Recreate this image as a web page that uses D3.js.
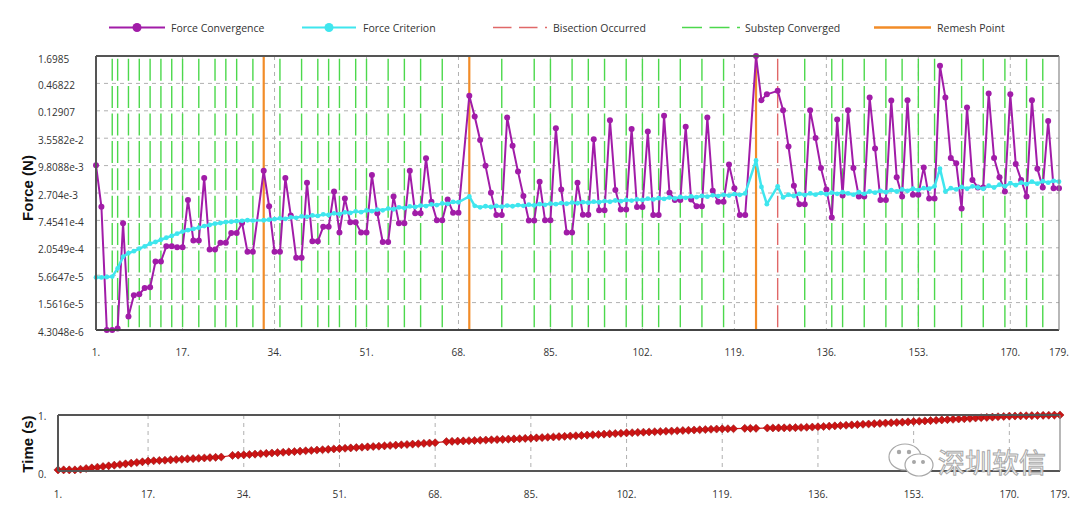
<!DOCTYPE html>
<html><head><meta charset="utf-8">
<script src="https://cdn.jsdelivr.net/npm/d3@7"></script>
<style>html,body{margin:0;padding:0;background:#fff;}svg{display:block;}</style>
</head><body>
<svg id="c" width="1080" height="507"></svg>
<script>
// ---------- DATA ----------
const forceConvergence = [
 1.0e-2, 1.42e-3, 4.3048e-6, 4.3048e-6, 4.6e-6, 6.5e-4, 8.1e-6, 2.2e-5, 2.3e-5, 3.1e-5,
 3.2e-5, 1.08e-4, 1.08e-4, 2.2e-4, 2.2e-4, 2.1e-4, 2.1e-4, 1.95e-3, 2.9e-4, 2.9e-4,
 5.5e-3, 1.9e-4, 1.9e-4, 2.6e-4, 2.6e-4, 4.1e-4, 4.1e-4, 6.6e-4, 1.7e-4, 1.7e-4,
 null, 7.7e-3, 1.45e-3, 1.7e-4, 1.7e-4, 5.5e-3, 9.4e-4, 1.29e-4, 1.29e-4, 4.4e-3,
 2.8e-4, 2.8e-4, 5.5e-4, 5.5e-4, 2.9e-3, 4.2e-4, 2.1e-3, 6.8e-4, 6.8e-4, 4.2e-4,
 4.2e-4, 6.3e-3, 1.04e-3, 2.7e-4, 2.7e-4, 2.3e-3, 6.5e-4, 6.5e-4, 7.7e-3, 1.04e-3,
 1.04e-3, 1.39e-2, 1.79e-3, 7.5e-4, 7.5e-4, 2.0e-3, 1.07e-3, 1.07e-3, null, 0.262,
 9.85e-2, 3.26e-2, 9.7e-3, 2.75e-3, 9.6e-4, 9.6e-4, 9.4e-2, 2.5e-2, 7.4e-3, 2.35e-3,
 7.4e-4, 7.4e-4, 4.6e-3, 7.5e-4, 7.5e-4, 5.66e-2, 3.2e-3, 4.2e-4, 4.2e-4, 4.4e-3,
 9.7e-4, 9.7e-4, 3.4e-2, 1.2e-3, 1.2e-3, 8.3e-2, 3.1e-3, 1.25e-3, 1.25e-3, 5.5e-2,
 1.4e-3, 1.4e-3, 4.85e-2, 9.6e-4, 9.6e-4, 0.102, 2.75e-3, 1.95e-3, 1.95e-3, 6.1e-2,
 2.0e-3, 1.45e-3, 1.45e-3, 9.4e-2, 3.0e-3, 1.8e-3, 1.8e-3, 1.03e-2, 3.4e-3, 9.6e-4,
 9.6e-4, null, 1.6985, 0.213, 0.28, null, 0.33, 0.133, 2.4e-2, 3.8e-3,
 1.6e-3, 1.6e-3, 0.133, 3.6e-2, 8.8e-3, 3.2e-3, 8.5e-4, 8.6e-2, 2.4e-3, 0.133,
 8.8e-3, 2.3e-3, 2.3e-3, 0.24, 2.2e-2, 1.95e-3, 1.95e-3, 0.21, 5.7e-3, 2.3e-3,
 0.213, 2.5e-3, 2.5e-3, 9.0e-3, 2.1e-3, 2.1e-3, 1.07, 0.24, 1.4e-2, 1.1e-2,
 1.3e-3, 0.15, 5.0e-3, 3.5e-3, 3.5e-3, 0.29, 1.4e-2, 5.7e-3, 2.9e-3, 0.28,
 1.06e-2, 5.0e-3, 2.3e-3, 0.213, 8.5e-3, 3.5e-3, 8.0e-2, 3.4e-3, 3.4e-3
];
const forceCriterion = [
 5.1e-5, 5.1e-5, 5.2e-5, 5.3e-5, 7.8e-5, 1.35e-4, 1.6e-4, 1.75e-4, 1.98e-4, 2.2e-4,
 2.5e-4, 2.7e-4, 3.0e-4, 3.3e-4, 3.6e-4, 4.0e-4, 4.4e-4, 4.7e-4, 5.0e-4, 5.3e-4,
 5.7e-4, 6.0e-4, 6.4e-4, 6.6e-4, 6.9e-4, 7.0e-4, 7.2e-4, 7.3e-4, 7.5e-4, 7.4e-4,
 null, 7.5e-4, 7.7e-4, 7.9e-4, 8.2e-4, 8.0e-4, 8.6e-4, 8.4e-4, 9.0e-4, 8.8e-4,
 9.4e-4, 9.2e-4, 9.9e-4, 9.6e-4, 1.04e-3, 1.0e-3, 1.09e-3, 1.06e-3, 1.14e-3, 1.1e-3,
 1.19e-3, 1.15e-3, 1.24e-3, 1.2e-3, 1.3e-3, 1.26e-3, 1.38e-3, 1.33e-3, 1.44e-3, 1.4e-3,
 1.5e-3, 1.46e-3, 1.58e-3, 1.53e-3, 1.66e-3, 1.62e-3, 1.78e-3, 1.75e-3, null, 2.3e-3,
 1.48e-3, 1.38e-3, 1.45e-3, 1.4e-3, 1.47e-3, 1.42e-3, 1.5e-3, 1.45e-3, 1.53e-3, 1.48e-3,
 1.56e-3, 1.51e-3, 1.6e-3, 1.55e-3, 1.64e-3, 1.6e-3, 1.68e-3, 1.63e-3, 1.72e-3, 1.67e-3,
 1.76e-3, 1.71e-3, 1.8e-3, 1.75e-3, 1.85e-3, 1.79e-3, 1.9e-3, 1.84e-3, 1.95e-3, 1.89e-3,
 2.0e-3, 1.95e-3, 2.07e-3, 2.0e-3, 2.12e-3, 2.05e-3, 2.18e-3, 2.1e-3, 2.24e-3, 2.16e-3,
 2.3e-3, 2.22e-3, 2.36e-3, 2.28e-3, 2.42e-3, 2.34e-3, 2.48e-3, 2.4e-3, 2.56e-3, 2.48e-3,
 2.65e-3, null, 1.25e-2, 3.6e-3, 1.6e-3, null, 3.7e-3, 2.2e-3, 2.5e-3, 2.35e-3,
 2.6e-3, 2.45e-3, 2.65e-3, 2.5e-3, 2.7e-3, 2.55e-3, 2.75e-3, 2.6e-3, 2.8e-3, 2.65e-3,
 2.5e-3, 2.8e-3, 2.6e-3, 2.9e-3, 2.75e-3, 3.0e-3, 2.8e-3, 3.1e-3, 2.9e-3, 3.2e-3,
 3.0e-3, 3.3e-3, 3.1e-3, 3.4e-3, 3.3e-3, 3.7e-3, 8.5e-3, 2.9e-3, 3.4e-3, 3.2e-3,
 3.6e-3, 3.3e-3, 3.7e-3, 3.5e-3, 3.3e-3, 3.8e-3, 3.5e-3, 4.0e-3, 3.7e-3, 4.3e-3,
 3.9e-3, 4.4e-3, 4.1e-3, 4.6e-3, 4.2e-3, 4.7e-3, 4.4e-3, 4.8e-3, 4.6e-3
];
const timeValues = [
 .020,.020,.020,.020,.032,.044,.056,.068,.080,.092,
 .104,.116,.128,.140,.152,.164,.176,.182,.188,.193,
 .199,.205,.210,.216,.222,.228,.233,.239,.244,.250,
 null,.278,.283,.288,.295,.301,.308,.314,.321,.328,
 .334,.341,.347,.354,.361,.367,.374,.380,.387,.394,
 .400,.406,.412,.419,.425,.431,.437,.443,.449,.456,
 .462,.468,.474,.480,.486,.493,.499,.505,null,.525,
 .529,.533,.537,.541,.545,.549,.553,.557,.561,.565,
 .569,.573,.577,.582,.586,.592,.597,.603,.608,.614,
 .619,.625,.630,.636,.641,.647,.652,.658,.663,.669,
 .674,.680,.684,.689,.693,.697,.702,.706,.710,.714,
 .719,.723,.727,.732,.736,.740,.745,.749,.753,.755,
 .755,null,.762,.762,.762,null,.768,.769,.770,.771,
 .772,.774,.777,.781,.785,.790,.795,.801,.806,.812,
 .817,.823,.828,.834,.839,.845,.850,.856,.861,.867,
 .872,.878,.883,.889,.894,.900,.906,.912,.917,.923,
 .929,.934,.940,.946,.952,.957,.963,.969,.974,.980,
 .982,.985,.987,.989,.991,.994,.996,.998,1.0
];
const substepConverged = [4,5,7,9,11,13,15,17,20,23,25,27,30,35,39,42,44,46,49,51,55,58,61,65,
 76,82,85,89,92,95,99,102,105,109,113,117,132,137,139,143,147,150,153,156,161,165,169,173,176];
const bisectionOccurred = [127];
const remeshPoints = [32,70,123];
const xTicks = [1,17,34,51,68,85,102,119,136,153,170,179];
const xTickLabels = ["1.","17.","34.","51.","68.","85.","102.","119.","136.","153.","170.","179."];
const yTicks = [1.6985,0.46822,0.12907,3.5582e-2,9.8088e-3,2.704e-3,7.4541e-4,2.0549e-4,5.6647e-5,1.5616e-5,4.3048e-6];
const yTickLabels = ["1.6985","0.46822","0.12907","3.5582e-2","9.8088e-3","2.704e-3","7.4541e-4","2.0549e-4","5.6647e-5","1.5616e-5","4.3048e-6"];
const timeTicks = [0,1];
const timeTickLabels = ["0.","1."];
const legendNames = ["Force Convergence","Force Criterion","Bisection Occurred","Substep Converged","Remesh Point"];

// ---------- STYLE ----------
const C = {purple:"#a11ca8", cyan:"#3fe6ee", red:"#e06868", green:"#4cd84c", orange:"#f28c28", grid:"#b0b0b0"};
const FONT = "'Open Sans','Noto Sans',sans-serif";
const svg = d3.select("#c");
svg.append("rect").attr("width",1080).attr("height",507).attr("fill","#fff");

// ---------- MAIN CHART ----------
const M = {l:96, r:1059, t:56, b:330};
const x = d3.scaleLinear().domain([1,179]).range([M.l,M.r]);
const y = d3.scaleLog().domain([4.3048e-6,1.6985]).range([M.b,M.t]);
const main = svg.append("g");

main.selectAll(".hg").data(yTicks.slice(1,-1)).enter().append("line")
  .attr("x1",M.l).attr("x2",M.r).attr("y1",d=>y(d)).attr("y2",d=>y(d))
  .attr("stroke",C.grid).attr("stroke-dasharray","4,4").attr("stroke-width",1);
main.selectAll(".vg").data(xTicks.slice(1,-1)).enter().append("line")
  .attr("x1",d=>x(d)).attr("x2",d=>x(d)).attr("y1",M.t).attr("y2",M.b)
  .attr("stroke",C.grid).attr("stroke-dasharray","4,4").attr("stroke-width",1);

main.selectAll(".gl").data(substepConverged).enter().append("line")
  .attr("x1",d=>x(d)).attr("x2",d=>x(d)).attr("y1",M.t).attr("y2",M.b)
  .attr("stroke",C.green).attr("stroke-width",1.4)
  .attr("stroke-dasharray","22,5.4").attr("stroke-dashoffset",24.7);
main.selectAll(".rl").data(bisectionOccurred).enter().append("line")
  .attr("x1",d=>x(d)).attr("x2",d=>x(d)).attr("y1",M.t).attr("y2",M.b)
  .attr("stroke",C.red).attr("stroke-width",1.4)
  .attr("stroke-dasharray","22,5.4").attr("stroke-dashoffset",24.7);
main.selectAll(".ol").data(remeshPoints).enter().append("line")
  .attr("x1",d=>x(d)).attr("x2",d=>x(d)).attr("y1",M.t).attr("y2",M.b)
  .attr("stroke",C.orange).attr("stroke-width",2.2);

const fc = forceConvergence.map((v,i)=>({i:i+1,v})).filter(d=>d.v!=null);
const cr = forceCriterion.map((v,i)=>({i:i+1,v})).filter(d=>d.v!=null);
const line = d3.line().x(d=>x(d.i)).y(d=>y(d.v));

main.append("path").datum(fc).attr("d",line).attr("fill","none")
  .attr("stroke",C.purple).attr("stroke-width",2).attr("stroke-linejoin","round");
main.selectAll(".pm").data(fc).enter().append("circle")
  .attr("cx",d=>x(d.i)).attr("cy",d=>y(d.v)).attr("r",3).attr("fill",C.purple);

main.append("path").datum(cr).attr("d",line).attr("fill","none")
  .attr("stroke",C.cyan).attr("stroke-width",2.5).attr("stroke-linejoin","round");
main.selectAll(".cm").data(cr).enter().append("circle")
  .attr("cx",d=>x(d.i)).attr("cy",d=>y(d.v)).attr("r",2.4).attr("fill",C.cyan);

// borders
main.append("line").attr("x1",M.l).attr("x2",M.r).attr("y1",M.t).attr("y2",M.t).attr("stroke","#555").attr("stroke-width",2);
main.append("line").attr("x1",M.l).attr("x2",M.r).attr("y1",M.b).attr("y2",M.b).attr("stroke","#444").attr("stroke-width",2);
main.append("line").attr("x1",M.l).attr("x2",M.l).attr("y1",M.t).attr("y2",M.b).attr("stroke","#555").attr("stroke-width",2);
main.append("line").attr("x1",M.r).attr("x2",M.r).attr("y1",M.t).attr("y2",M.b).attr("stroke","#888").attr("stroke-width",1.2);

// y tick labels
main.selectAll(".yl").data(yTicks).enter().append("text")
  .attr("x",38).attr("y",(d,i)=>Math.max(y(d)+5.5,63))
  .attr("font-family",FONT).attr("font-size",10).attr("fill","#333")
  .text((d,i)=>yTickLabels[i]);
// x tick labels
main.selectAll(".xl").data(xTicks).enter().append("text")
  .attr("x",d=>x(d)).attr("y",356).attr("text-anchor","middle")
  .attr("font-family",FONT).attr("font-size",10).attr("fill","#333")
  .text((d,i)=>xTickLabels[i]);
// y title
svg.append("text").attr("transform","translate(33,188) rotate(-90)")
  .attr("text-anchor","middle").attr("font-family","'Liberation Sans',Arial,sans-serif")
  .attr("font-weight","bold").attr("font-size",15).attr("fill","#111").text("Force (N)");

// ---------- LEGEND ----------
const lg = svg.append("g").attr("font-family",FONT).attr("font-size",10.5).attr("fill","#333");
const LY = 27.5;
lg.append("line").attr("x1",109).attr("x2",165).attr("y1",LY).attr("y2",LY).attr("stroke",C.purple).attr("stroke-width",2);
lg.append("circle").attr("cx",137).attr("cy",LY).attr("r",4.5).attr("fill",C.purple);
lg.append("text").attr("x",171).attr("y",LY+4).text(legendNames[0]);
lg.append("line").attr("x1",302).attr("x2",356).attr("y1",LY).attr("y2",LY).attr("stroke",C.cyan).attr("stroke-width",2);
lg.append("circle").attr("cx",329).attr("cy",LY).attr("r",4.5).attr("fill",C.cyan);
lg.append("text").attr("x",363).attr("y",LY+4).text(legendNames[1]);
lg.append("line").attr("x1",493).attr("x2",547).attr("y1",LY).attr("y2",LY).attr("stroke",C.red).attr("stroke-width",1.5).attr("stroke-dasharray","18.5,7.5");
lg.append("text").attr("x",553).attr("y",LY+4).text(legendNames[2]);
lg.append("line").attr("x1",682).attr("x2",740).attr("y1",LY).attr("y2",LY).attr("stroke",C.green).attr("stroke-width",1.5).attr("stroke-dasharray","20,7.5");
lg.append("text").attr("x",745).attr("y",LY+4).text(legendNames[3]);
lg.append("line").attr("x1",874).attr("x2",931).attr("y1",LY).attr("y2",LY).attr("stroke",C.orange).attr("stroke-width",2.5);
lg.append("text").attr("x",937).attr("y",LY+4).text(legendNames[4]);

// ---------- TIME CHART ----------
const T = {l:58, r:1060, t:415, b:471};
const x2 = d3.scaleLinear().domain([1,179]).range([T.l,T.r]);
const y2 = d3.scaleLinear().domain([0,1]).range([T.b,T.t]);
const tg = svg.append("g");
tg.selectAll(".vg2").data(xTicks.slice(1,-1)).enter().append("line")
  .attr("x1",d=>x2(d)).attr("x2",d=>x2(d)).attr("y1",T.t).attr("y2",T.b)
  .attr("stroke",C.grid).attr("stroke-dasharray","4,4");
const tv = timeValues.map((v,i)=>({i:i+1,v})).filter(d=>d.v!=null);
tg.append("path").datum(tv).attr("d",d3.line().x(d=>x2(d.i)).y(d=>y2(d.v)))
  .attr("fill","none").attr("stroke","#d01818").attr("stroke-width",1.2);
tg.selectAll(".tm").data(tv).enter().append("path")
  .attr("transform",d=>`translate(${x2(d.i)},${y2(d.v)})`)
  .attr("d",d3.symbol().type(d3.symbolDiamond2).size(42))
  .attr("fill","#cc1414").attr("stroke","#8a0a0a").attr("stroke-width",0.5);
tg.append("line").attr("x1",T.l).attr("x2",T.r).attr("y1",T.t).attr("y2",T.t).attr("stroke","#555").attr("stroke-width",2);
tg.append("line").attr("x1",T.l).attr("x2",T.r).attr("y1",T.b).attr("y2",T.b).attr("stroke","#555").attr("stroke-width",2);
tg.append("line").attr("x1",T.l).attr("x2",T.l).attr("y1",T.t).attr("y2",T.b).attr("stroke","#555").attr("stroke-width",2);
tg.append("line").attr("x1",T.r).attr("x2",T.r).attr("y1",T.t).attr("y2",T.b).attr("stroke","#888").attr("stroke-width",1.2);
tg.selectAll(".tyl").data(timeTicks).enter().append("text")
  .attr("x",38).attr("y",d=>y2(d)+(d===0?6.5:4.5))
  .attr("font-family",FONT).attr("font-size",10).attr("fill","#333")
  .text((d,i)=>timeTickLabels[i]);
tg.selectAll(".txl").data(xTicks).enter().append("text")
  .attr("x",d=>x2(d)).attr("y",498).attr("text-anchor","middle")
  .attr("font-family",FONT).attr("font-size",10).attr("fill","#333")
  .text((d,i)=>xTickLabels[i]);
svg.append("text").attr("transform","translate(33,444) rotate(-90)")
  .attr("text-anchor","middle").attr("font-family","'Liberation Sans',Arial,sans-serif")
  .attr("font-weight","bold").attr("font-size",15).attr("fill","#111").text("Time (s)");

// ---------- WATERMARK ----------
const wm = svg.append("g").attr("fill","#fff").attr("stroke","#a8a8a8").attr("stroke-width",1.2);
wm.append("ellipse").attr("cx",905).attr("cy",457).attr("rx",16).attr("ry",13);
wm.append("ellipse").attr("cx",919).attr("cy",465).attr("rx",14).attr("ry",11);
wm.append("circle").attr("cx",899).attr("cy",452).attr("r",1.6).attr("fill","#a8a8a8");
wm.append("circle").attr("cx",909).attr("cy",452).attr("r",1.6).attr("fill","#a8a8a8");
wm.append("circle").attr("cx",914).attr("cy",462).attr("r",1.4).attr("fill","#a8a8a8");
wm.append("circle").attr("cx",923).attr("cy",462).attr("r",1.4).attr("fill","#a8a8a8");
wm.append("text").attr("x",938).attr("y",473).attr("font-family","'Noto Sans CJK SC',sans-serif")
  .attr("font-size",27).attr("stroke-width",1).text("深圳软信");
</script>
</body></html>
